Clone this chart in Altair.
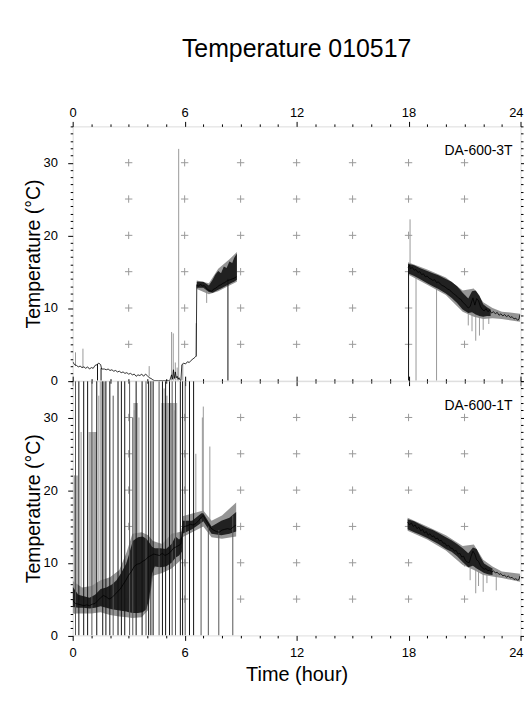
import altair as alt
import pandas as pd

FONT = "Liberation Sans"
W, H = 450, 255.5

# ---------------- axes / grid values ----------------
hour_ticks = list(range(0, 25))
temp_ticks = list(range(0, 36))
grid_hours = [3, 6, 9, 12, 15, 18, 21]
grid_temps = [5, 10, 15, 20, 25, 30]

# ---------------- DA-600-3T (upper panel) ----------------
t3_line_a = [(0.0, 2.6), (0.1, 2.2), (0.2, 2.1), (0.3, 1.9), (0.4, 2.0), (0.5, 1.8), (0.6, 1.9),
             (0.7, 1.7), (0.8, 1.9), (0.9, 1.6), (1.0, 1.8), (1.1, 1.7), (1.2, 2.1), (1.3, 2.2),
             (1.4, 2.4), (1.5, 2.2), (1.55, 1.6), (1.7, 1.6), (1.8, 1.5), (1.9, 1.6), (2.0, 1.4),
             (2.1, 1.5), (2.2, 1.3), (2.3, 1.4), (2.4, 1.2), (2.5, 1.3), (2.6, 1.1), (2.7, 1.2),
             (2.8, 1.0), (2.9, 1.1), (3.0, 0.9), (3.1, 1.0), (3.2, 0.8), (3.3, 0.9), (3.4, 0.6),
             (3.5, 0.8), (3.6, 0.7), (3.7, 0.9), (3.8, 0.6), (3.9, 0.9), (4.0, 0.7), (4.1, 0.4),
             (4.2, 0.3), (4.3, 0.1), (4.4, 0.0), (4.6, 0.0), (4.8, 0.0), (5.0, 0.0), (5.2, 0.0),
             (5.3, 0.8), (5.35, 0.2), (5.4, 1.5), (5.45, 0.3), (5.5, 1.2), (5.55, 0.4), (5.6, 0.6),
             (5.65, 0.2), (5.7, 0.4), (5.75, 0.1), (5.8, 0.0), (5.85, 2.2), (5.95, 2.4), (6.05, 2.3),
             (6.15, 2.6), (6.25, 2.5), (6.35, 2.8), (6.45, 3.0), (6.55, 3.2), (6.62, 3.4),
             (6.65, 13.2), (6.75, 13.0), (6.85, 13.3), (6.95, 13.0), (7.05, 13.1), (7.15, 12.8),
             (7.25, 12.5), (7.35, 12.4), (7.45, 12.3), (7.55, 12.6), (7.65, 12.7), (7.75, 12.9),
             (7.85, 13.1), (7.95, 13.2), (8.05, 13.4), (8.15, 13.5), (8.25, 13.7), (8.35, 13.8),
             (8.45, 13.9), (8.55, 14.0), (8.65, 14.1), (8.78, 14.3)]
t3_line_b = [(17.97, 15.6), (18.05, 15.9), (18.1, 15.4), (18.2, 15.6), (18.3, 15.2), (18.4, 15.3),
             (18.5, 14.9), (18.6, 15.0), (18.7, 14.6), (18.8, 14.7), (18.9, 14.3), (19.0, 14.4),
             (19.1, 14.1), (19.2, 14.0), (19.3, 13.8), (19.4, 13.9), (19.5, 13.5), (19.6, 13.6),
             (19.7, 13.3), (19.8, 13.1), (19.9, 13.0), (20.0, 12.8), (20.1, 12.6), (20.2, 12.5),
             (20.3, 12.2), (20.4, 12.0), (20.5, 11.8), (20.6, 11.6), (20.7, 11.3), (20.8, 11.2),
             (20.9, 10.8), (21.0, 10.6), (21.1, 10.3), (21.2, 10.0), (21.3, 10.2), (21.4, 11.0),
             (21.45, 11.4), (21.55, 10.4), (21.65, 11.3), (21.75, 11.0), (21.85, 10.2), (21.95, 9.8),
             (22.05, 9.6), (22.15, 9.9), (22.25, 9.5), (22.35, 9.7), (22.45, 9.3), (22.55, 9.5),
             (22.65, 9.2), (22.75, 9.4), (22.85, 9.0), (22.95, 9.2), (23.05, 8.9), (23.15, 9.1),
             (23.25, 8.8), (23.35, 9.0), (23.45, 8.7), (23.55, 8.8), (23.65, 8.5), (23.75, 8.6),
             (23.85, 8.3), (23.92, 8.5), (23.97, 9.1)]
t3_band_a = [(6.65, 12.8, 13.6), (7.0, 12.8, 13.6), (7.3, 12.2, 13.1), (7.5, 12.1, 13.9),
             (7.65, 12.3, 14.6), (7.8, 12.5, 15.1), (7.95, 12.7, 14.8), (8.1, 12.9, 15.7),
             (8.25, 13.1, 15.5), (8.4, 13.3, 16.4), (8.55, 13.5, 16.2), (8.65, 13.6, 16.9),
             (8.8, 13.9, 17.5)]
t3_band_b = [(17.97, 14.8, 16.1), (18.3, 14.4, 15.9), (18.6, 14.0, 15.5), (19.0, 13.4, 15.1),
             (19.3, 13.0, 14.8), (19.6, 12.6, 14.5), (20.0, 12.0, 14.0), (20.3, 11.4, 13.6),
             (20.6, 10.7, 13.0), (20.9, 9.8, 12.1), (21.2, 9.3, 11.3), (21.4, 9.4, 12.3),
             (21.6, 9.1, 12.4), (21.8, 8.9, 11.7), (22.0, 8.8, 10.5), (22.2, 8.9, 10.1),
             (22.4, 8.9, 9.8)]
t3_halo_a = [(6.65, 12.6, 13.8), (7.3, 11.9, 13.4), (7.8, 12.3, 15.4), (8.4, 13.1, 16.7),
             (8.8, 13.6, 17.7)]
t3_halo_b = [(17.97, 14.6, 16.3), (19.0, 13.2, 15.3), (20.0, 11.8, 14.2), (20.9, 9.5, 12.4),
             (21.5, 8.8, 12.7), (22.0, 8.5, 10.8), (22.5, 8.6, 10.0), (23.0, 8.5, 9.5),
             (23.97, 8.1, 9.2)]
t3_spk_black = [(1.33, 0.0, 2.3), (1.52, 0.0, 1.7), (8.32, 0.0, 14.0), (18.0, 0.0, 15.8)]
t3_spk_dark = []
t3_spk_gray = [(0.15, 2.0, 3.9), (0.55, 1.8, 4.4), (4.1, 0.6, 2.0), (5.3, 0.0, 6.7),
               (5.39, 0.0, 6.5), (5.5, 0.0, 2.5), (5.6, 0.0, 1.8), (5.68, 0.0, 31.9),
               (5.9, 0.0, 2.3), (6.62, 3.3, 7.9), (7.18, 10.7, 12.6), (18.08, 15.0, 22.2),
               (18.4, 0.0, 15.0), (19.5, 0.0, 13.5), (21.2, 7.6, 10.0), (21.4, 6.8, 10.5),
               (21.6, 5.5, 10.5), (21.8, 6.2, 10.5), (22.0, 7.0, 9.5), (22.3, 7.8, 9.4)]
t3_cols = []

# ---------------- DA-600-1T (lower panel) ----------------
t1_line_a = [(0.0, 5.0), (0.05, 4.6), (0.15, 4.4), (0.3, 4.3), (0.45, 4.2), (0.6, 4.1), (0.75, 4.2),
             (0.9, 4.1), (1.05, 4.3), (1.2, 4.4), (1.35, 4.8), (1.5, 5.2), (1.65, 5.5), (1.8, 5.3),
             (1.95, 5.0), (2.1, 5.2), (2.25, 5.6), (2.4, 6.0), (2.55, 6.4), (2.7, 7.0), (2.85, 7.6),
             (3.0, 8.3), (3.15, 8.8), (3.3, 9.5), (3.45, 9.8), (3.6, 9.9), (3.75, 10.2), (3.9, 10.4),
             (4.05, 10.8), (4.2, 11.0), (4.35, 11.2), (4.5, 11.1), (4.65, 11.0), (4.8, 11.3),
             (4.95, 11.0), (5.1, 11.2), (5.25, 11.5), (5.4, 12.0), (5.55, 12.2), (5.7, 12.4),
             (5.8, 12.6), (5.88, 14.8), (6.0, 15.0), (6.15, 15.1), (6.3, 15.3), (6.45, 15.2),
             (6.6, 15.4), (6.75, 15.8), (6.9, 16.3), (7.0, 16.5), (7.1, 16.0), (7.25, 15.4),
             (7.4, 14.8), (7.55, 14.5), (7.7, 14.3), (7.85, 14.2), (8.0, 14.5), (8.15, 14.6),
             (8.3, 14.7), (8.45, 14.6), (8.6, 14.9), (8.75, 15.2)]
t1_line_b = [(17.95, 15.6), (18.05, 15.2), (18.15, 15.5), (18.25, 15.0), (18.35, 15.2), (18.45, 14.7),
             (18.55, 14.9), (18.65, 14.4), (18.75, 14.6), (18.85, 14.1), (18.95, 14.3), (19.05, 13.8),
             (19.15, 14.0), (19.25, 13.6), (19.35, 13.7), (19.45, 13.3), (19.55, 13.4), (19.65, 13.0),
             (19.75, 13.1), (19.85, 12.7), (19.95, 12.7), (20.05, 12.3), (20.15, 12.4), (20.25, 12.0),
             (20.35, 12.0), (20.45, 11.6), (20.55, 11.7), (20.65, 11.2), (20.75, 11.3), (20.85, 10.8),
             (20.95, 10.9), (21.05, 10.3), (21.15, 10.1), (21.25, 10.0), (21.35, 10.9), (21.45, 11.6),
             (21.55, 11.2), (21.65, 10.4), (21.75, 10.2), (21.85, 9.6), (21.95, 9.3), (22.05, 9.1),
             (22.15, 9.2), (22.25, 8.9), (22.35, 9.0), (22.45, 8.7), (22.55, 8.9), (22.65, 8.6),
             (22.75, 8.7), (22.85, 8.4), (22.95, 8.5), (23.05, 8.2), (23.15, 8.3), (23.25, 8.0),
             (23.35, 8.2), (23.45, 7.9), (23.55, 8.0), (23.65, 7.7), (23.75, 7.8), (23.85, 7.6),
             (23.92, 7.7), (23.97, 8.2)]
t1_band_a = [(0.0, 3.9, 6.7), (0.3, 3.8, 5.6), (0.6, 3.8, 5.4), (0.9, 3.7, 5.2), (1.2, 3.8, 5.6),
             (1.5, 4.0, 6.4), (1.8, 3.8, 6.6), (2.1, 3.6, 7.0), (2.35, 3.5, 7.6), (2.6, 3.4, 8.6),
             (2.87, 3.3, 9.9), (3.0, 3.2, 11.0), (3.22, 3.1, 13.0), (3.5, 3.1, 13.5), (3.75, 3.2, 13.6),
             (3.95, 3.6, 13.3), (4.1, 5.0, 12.8), (4.25, 8.5, 12.2), (4.4, 9.5, 12.0), (4.7, 9.4, 12.0),
             (5.0, 9.5, 11.9), (5.3, 10.0, 12.6), (5.51, 10.7, 13.6), (5.7, 11.0, 13.2),
             (5.85, 11.5, 13.5), (5.88, 14.0, 15.8), (6.4, 14.6, 15.8), (6.9, 15.5, 16.8),
             (7.0, 15.7, 16.8), (7.44, 14.0, 15.0), (7.97, 13.8, 15.8), (8.4, 14.0, 16.2),
             (8.76, 14.3, 17.0)]
t1_band_b = [(17.95, 14.6, 16.0), (18.3, 14.2, 15.7), (18.6, 13.9, 15.3), (19.0, 13.4, 14.8),
             (19.3, 13.0, 14.5), (19.6, 12.6, 14.1), (20.0, 11.9, 13.5), (20.3, 11.5, 13.1),
             (20.6, 10.9, 12.6), (20.9, 10.1, 12.0), (21.2, 9.4, 11.3), (21.45, 9.6, 12.1),
             (21.65, 9.2, 11.9), (21.85, 8.9, 10.8), (22.05, 8.6, 9.9), (22.3, 8.4, 9.5),
             (22.5, 8.3, 9.2)]
t1_halo_a = [(0.0, 3.0, 7.5), (0.5, 3.0, 6.6), (1.0, 3.0, 6.8), (1.5, 3.2, 7.6), (2.0, 2.8, 8.0),
             (2.5, 2.6, 9.0), (2.9, 2.5, 11.5), (3.2, 2.4, 14.0), (3.7, 2.5, 14.2), (4.05, 3.5, 13.8),
             (4.3, 8.2, 13.0), (4.8, 8.6, 12.6), (5.3, 9.2, 14.0), (5.85, 10.5, 14.3),
             (5.88, 13.5, 16.4), (7.0, 15.0, 17.2), (7.44, 13.5, 15.8), (8.0, 13.3, 16.5),
             (8.76, 13.6, 18.3)]
t1_halo_b = [(17.95, 14.4, 16.2), (19.0, 13.2, 15.0), (20.0, 11.7, 13.8), (20.9, 9.7, 12.3),
             (21.5, 9.0, 12.5), (22.0, 8.3, 10.4), (22.5, 8.1, 9.5), (23.0, 7.9, 8.8),
             (23.97, 7.4, 8.5)]
t1_spk_black = [(0.33, 0, 35), (0.59, 0, 35), (0.80, 0, 35), (1.29, 0, 35), (1.61, 0, 35),
                (1.78, 0, 35), (1.99, 0, 35), (2.43, 0, 35), (2.61, 0, 35), (2.79, 0, 35),
                (3.40, 0, 35), (3.72, 0, 35), (4.07, 0, 35), (4.19, 0, 35), (4.31, 0, 35),
                (4.81, 0, 35), (4.98, 0, 35), (5.19, 0, 35), (5.77, 0, 35), (5.89, 0, 35),
                (6.26, 0, 35), (6.48, 0, 35)]
t1_spk_dark = [(0.15, 0, 35), (1.03, 0, 35), (2.17, 0, 33), (3.05, 0, 35), (3.22, 0, 30),
               (3.93, 0, 35), (4.63, 0, 35), (5.33, 0, 35), (5.51, 0, 35), (6.03, 0, 35),
               (6.88, 0, 16), (7.27, 0, 15), (7.83, 0, 14.5), (8.58, 0, 16.5)]
t1_spk_gray = [(0.1, 3, 22), (0.45, 4, 28), (1.2, 4, 28), (1.4, 5, 33), (3.3, 4, 31), (3.55, 4, 30),
               (4.9, 10, 34), (5.05, 10, 33), (5.25, 11, 32), (5.45, 11, 31), (6.6, 15, 25),
               (6.95, 15, 30), (7.0, 16, 31.5), (7.35, 14, 26), (21.3, 7.6, 10.2), (21.6, 5.8, 10.4),
               (21.75, 6.8, 10.5), (22.0, 6.0, 9.4), (22.2, 7.2, 9.3), (22.7, 6.2, 8.8)]
t1_cols = [(0.05, 0.28, 4, 22), (0.85, 1.3, 5, 28), (1.45, 1.75, 5, 35), (3.25, 3.5, 8, 32),
           (4.75, 5.6, 11, 32)]


def seg_df(segs, cols):
    rows = []
    for i, seg in enumerate(segs):
        for rec in seg:
            d = dict(zip(cols, rec))
            d["seg"] = i
            rows.append(d)
    return pd.DataFrame(rows)


MAJ_X = "datum.value % 6 === 0"
MAJ_Y = "datum.value % 10 === 0"


def axis(orient, labels, is_x, title=None, pad=4, tpad=4, tsize=20):
    maj = MAJ_X if is_x else MAJ_Y
    kw = dict(orient=orient, values=hour_ticks if is_x else temp_ticks, labels=labels,
              labelExpr=f"{maj} ? datum.label : ''",
              tickSize={"condition": {"test": maj, "value": 5}, "value": 2.5},
              tickColor="#000", tickWidth=1, domain=False, grid=False,
              labelFont=FONT, labelFontSize=13, labelColor="#000", labelFlush=False,
              labelOverlap=False, labelPadding=pad, title=title)
    if is_x:
        kw["labelOffset"] = {"condition": {"test": "datum.value === 24", "value": -4.7}, "value": 0}
    if title:
        kw.update(titleFont=FONT, titleFontSize=tsize, titleFontWeight="normal",
                  titleColor="#000", titlePadding=tpad)
    return alt.Axis(**kw)


def panel(label, lines, bands, halos, spk_black, spk_dark, spk_gray, cols, is_top):
    xs = alt.Scale(domain=[0, 24], nice=False, zero=False)
    ys = alt.Scale(domain=[0, 35], nice=False, zero=False)
    xn = dict(axis=None)
    grid_df = pd.DataFrame([{"h": h, "t": t} for h in grid_hours for t in grid_temps])
    layers = []
    # grid crosses carry bottom / left axes
    layers.append(alt.Chart(grid_df).mark_point(
        shape="M-1,0L1,0M0,-1L0,1", size=55, filled=False, stroke="#9a9a9a",
        strokeWidth=1, opacity=1).encode(
        x=alt.X("h:Q", scale=xs, axis=axis("bottom", not is_top, True,
                                             None if is_top else "Time (hour)", 6, 5.7)),
        y=alt.Y("t:Q", scale=ys, axis=axis("left", True, False, "Temperature (°C)", 10.3, 0, 19.5))))
    if cols:
        cdf = pd.DataFrame(cols, columns=["h0", "h1", "lo", "hi"])
        layers.append(alt.Chart(cdf).mark_rect(color="#b0b0b0", clip=True).encode(
            x=alt.X("h0:Q", **xn), x2="h1:Q", y=alt.Y("lo:Q", **xn), y2="hi:Q"))
    if spk_gray:
        layers.append(alt.Chart(pd.DataFrame(spk_gray, columns=["h", "lo", "hi"])).mark_rule(
            color="#999999", strokeWidth=1, clip=True).encode(
            x=alt.X("h:Q", **xn), y=alt.Y("lo:Q", **xn), y2="hi:Q"))
    hdf = seg_df(halos, ["h", "lo", "hi"])
    layers.append(alt.Chart(hdf).mark_area(color="#8a8a8a", opacity=0.9, clip=True).encode(
        x=alt.X("h:Q", **xn), y=alt.Y("lo:Q", **xn), y2="hi:Q", detail="seg:N"))
    bdf = seg_df(bands, ["h", "lo", "hi"])
    layers.append(alt.Chart(bdf).mark_area(color="#1a1a1a", opacity=0.95, clip=True).encode(
        x=alt.X("h:Q", **xn), y=alt.Y("lo:Q", **xn), y2="hi:Q", detail="seg:N"))
    if spk_dark:
        layers.append(alt.Chart(pd.DataFrame(spk_dark, columns=["h", "lo", "hi"])).mark_rule(
            color="#555555", strokeWidth=1, clip=True).encode(
            x=alt.X("h:Q", **xn), y=alt.Y("lo:Q", **xn), y2="hi:Q"))
    if spk_black:
        layers.append(alt.Chart(pd.DataFrame(spk_black, columns=["h", "lo", "hi"])).mark_rule(
            color="#111111", strokeWidth=1, clip=True).encode(
            x=alt.X("h:Q", **xn), y=alt.Y("lo:Q", **xn), y2="hi:Q"))
    ldf = seg_df(lines, ["h", "t"])
    # line carries top / right axes
    layers.append(alt.Chart(ldf).mark_line(color="#000", strokeWidth=0.8, clip=True).encode(
        x=alt.X("h:Q", axis=axis("top", is_top, True, None, 2)),
        y=alt.Y("t:Q", axis=axis("right", False, False, None, 2)),
        detail="seg:N"))
    layers.append(alt.Chart(pd.DataFrame({"k": [0]})).mark_text(
        text=label, align="right", baseline="alphabetic", font=FONT, fontSize=14,
        color="#000").encode(x=alt.value(W - 8), y=alt.value(29)))
    return alt.layer(*layers).properties(width=W, height=H).resolve_axis(
        x="independent", y="independent")


top = panel("DA-600-3T", [t3_line_a, t3_line_b], [t3_band_a, t3_band_b],
            [t3_halo_a, t3_halo_b], t3_spk_black, t3_spk_dark, t3_spk_gray, t3_cols, True)
bottom = panel("DA-600-1T", [t1_line_a, t1_line_b], [t1_band_a, t1_band_b],
               [t1_halo_a, t1_halo_b], t1_spk_black, t1_spk_dark, t1_spk_gray, t1_cols, False)

chart = alt.vconcat(top, bottom, spacing=0, bounds="flush").properties(
    title=alt.TitleParams("Temperature 010517", font=FONT, fontSize=25, fontWeight="normal",
                          color="#000", anchor="middle", frame="group", offset=44.3),
    padding={"left": 14, "top": 27.3, "right": -2.5, "bottom": 5},
).configure_view(stroke="#000", strokeWidth=1.3).configure(background="#ffffff")

chart.save("out.html", embed_options={"renderer": "svg", "actions": False})
